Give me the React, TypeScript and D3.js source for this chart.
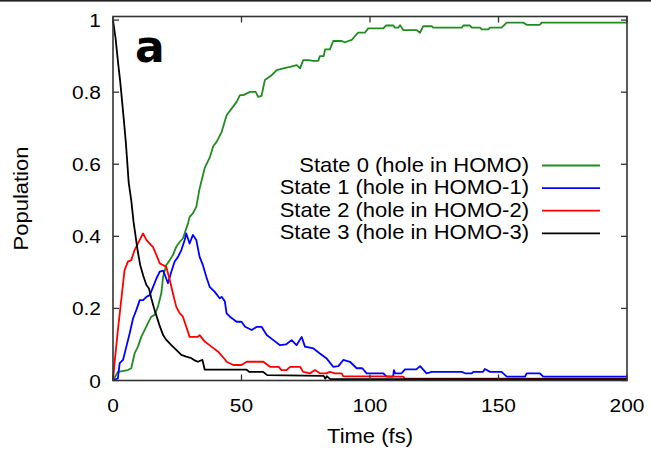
import React from 'react';
import * as d3 from 'd3';

const xTicks = [0, 50, 100, 150, 200];
const yTicks = [0, 0.2, 0.4, 0.6, 0.8, 1];
const yTickLabels = ['0', '0.2', '0.4', '0.6', '0.8', '1'];
const legendLabels = [
  'State 0 (hole in HOMO)',
  'State 1 (hole in HOMO-1)',
  'State 2 (hole in HOMO-2)',
  'State 3 (hole in HOMO-3)',
];
const seriesColors = ['#228b22', '#0000ff', '#ff0000', '#000000'];

const state0Time = [0, 1.9, 5.8, 7.1, 8.4, 9.7, 11, 12.3, 13.6, 14.9, 16.2, 17.5, 18.8, 19.5, 20.7, 22.1, 23.3, 24.6, 26, 27.2, 28.5, 29.2, 29.8, 31.1, 32.4, 33.7, 35.7, 37.7, 39, 40.3, 42.3, 44.2, 46.2, 48.1, 49.4, 50.7, 53.3, 55.5, 56.5, 57.8, 59.1, 61.7, 63.7, 66.3, 68.9, 71.5, 72.8, 74, 76, 77.9, 79.9, 80.5, 82, 82.5, 84.4, 85.7, 89, 90.3, 91.5, 92.9, 94.2, 95.4, 98, 99.3, 105.2, 106.2, 109.1, 109.7, 111, 111.7, 113, 118.2, 119.5, 120.7, 124, 124.6, 135.7, 136.3, 138.9, 139.6, 142.8, 143.5, 146, 146.7, 151.2, 153.2, 159.6, 161, 166.1, 166.8, 200];
const state0Pop = [0, 0.024, 0.029, 0.034, 0.075, 0.094, 0.121, 0.14, 0.159, 0.177, 0.182, 0.205, 0.242, 0.288, 0.32, 0.334, 0.348, 0.371, 0.385, 0.394, 0.422, 0.436, 0.454, 0.464, 0.482, 0.533, 0.59, 0.62, 0.65, 0.662, 0.69, 0.736, 0.755, 0.773, 0.792, 0.792, 0.801, 0.801, 0.787, 0.79, 0.834, 0.847, 0.861, 0.866, 0.87, 0.875, 0.866, 0.889, 0.889, 0.887, 0.887, 0.9, 0.9, 0.919, 0.919, 0.942, 0.942, 0.938, 0.942, 0.945, 0.956, 0.965, 0.965, 0.977, 0.977, 0.985, 0.985, 0.979, 0.979, 0.986, 0.972, 0.972, 0.965, 0.983, 0.983, 0.979, 0.979, 0.985, 0.985, 0.979, 0.979, 0.974, 0.974, 0.979, 0.979, 0.993, 0.993, 0.987, 0.987, 0.993, 0.993];

const state1Time = [0, 1.9, 2.3, 2.6, 3.9, 5.2, 6.5, 7.8, 9.1, 10.4, 11.7, 13, 14.3, 15.6, 16.9, 18.2, 19.5, 20.7, 21.4, 22.7, 24, 25.3, 26.6, 27.9, 28.5, 29.8, 31.1, 32.4, 33.7, 35, 36.3, 37.6, 39.6, 41.5, 42.3, 43.5, 44.2, 45.5, 48.1, 50, 51.4, 54, 55.9, 57.8, 59.8, 62.4, 65, 67.3, 69.5, 71.4, 73.4, 74.7, 78, 80.5, 83, 85.7, 87.7, 89.6, 92.2, 94.8, 97, 98.7, 105.2, 106.5, 109, 109.3, 109.8, 112.3, 113.6, 118, 119.5, 122, 124, 135.7, 137, 139.6, 140.2, 144, 144.7, 146.7, 151.2, 153.2, 160.3, 161, 166.1, 167.4, 200];
const state1Pop = [0, 0.006, 0.03, 0.048, 0.057, 0.094, 0.131, 0.172, 0.196, 0.223, 0.223, 0.232, 0.237, 0.26, 0.283, 0.302, 0.305, 0.283, 0.27, 0.302, 0.33, 0.343, 0.362, 0.39, 0.408, 0.38, 0.404, 0.39, 0.343, 0.32, 0.288, 0.26, 0.246, 0.228, 0.232, 0.22, 0.186, 0.177, 0.163, 0.163, 0.149, 0.14, 0.149, 0.149, 0.126, 0.112, 0.098, 0.1, 0.112, 0.098, 0.121, 0.094, 0.089, 0.075, 0.062, 0.038, 0.04, 0.057, 0.052, 0.034, 0.034, 0.02, 0.02, 0.0105, 0.0105, 0.029, 0.02, 0.02, 0.031, 0.031, 0.04, 0.02, 0.024, 0.024, 0.02, 0.02, 0.024, 0.024, 0.032, 0.024, 0.024, 0.0105, 0.0105, 0.02, 0.02, 0.0105, 0.0105];

const state2Time = [0, 0.6, 1.9, 3.2, 4.5, 5.8, 7.1, 8.4, 10.4, 11.7, 13, 14.3, 15.6, 16.9, 18.2, 19.5, 20.7, 22.1, 23.3, 24.6, 26, 27.2, 28.5, 29.8, 33, 33.7, 35.7, 38.3, 40.9, 43.5, 44.2, 46.8, 50, 52, 58.5, 61.1, 64.5, 65.6, 67.5, 68.9, 72.8, 74, 76.7, 78.6, 80.5, 83, 84.4, 86.4, 89, 89.6, 109, 110, 113, 113.5, 200];
const state2Pop = [0, 0.048, 0.14, 0.223, 0.306, 0.33, 0.334, 0.362, 0.39, 0.408, 0.39, 0.38, 0.37, 0.348, 0.325, 0.32, 0.316, 0.279, 0.242, 0.205, 0.186, 0.177, 0.149, 0.121, 0.121, 0.126, 0.108, 0.094, 0.08, 0.059, 0.052, 0.043, 0.043, 0.052, 0.052, 0.038, 0.038, 0.029, 0.029, 0.038, 0.038, 0.024, 0.02, 0.029, 0.02, 0.02, 0.024, 0.02, 0.02, 0.0115, 0.0115, 0.0105, 0.0105, 0.005, 0.005];

const state3Time = [0, 1, 2, 2.8, 3.2, 4, 5, 6.1, 7.1, 8, 8.8, 9.6, 10.6, 11.8, 13, 14, 14.9, 16, 16.9, 18, 19.5, 20.5, 21.4, 22.7, 24, 25.3, 26.6, 28.5, 30.5, 32, 33, 34.8, 35.7, 52, 53, 58.4, 60, 82, 82.6, 83.2, 84.5, 200];
const state3Pop = [1, 0.95, 0.88, 0.83, 0.8, 0.74, 0.66, 0.55, 0.5, 0.44, 0.4, 0.36, 0.32, 0.29, 0.265, 0.255, 0.228, 0.2, 0.18, 0.155, 0.126, 0.115, 0.108, 0.098, 0.089, 0.08, 0.071, 0.066, 0.062, 0.055, 0.052, 0.057, 0.03, 0.03, 0.024, 0.024, 0.015, 0.013, 0.005, 0.012, 0.004, 0.004];

const seriesTimes = [state0Time, state1Time, state2Time, state3Time];
const seriesPops = [state0Pop, state1Pop, state2Pop, state3Pop];

const FONT = "'Liberation Sans', Arial, Helvetica, sans-serif";
const SX = 1.1;

function SText(props: { x: number; y: number; anchor?: string; size: number; rotate?: boolean; children: React.ReactNode }) {
  const { x, y, anchor = 'start', size, rotate, children } = props;
  return (
    <text
      transform={`translate(${x},${y})${rotate ? ' rotate(-90)' : ''} scale(${SX},1)`}
      textAnchor={anchor}
      fontFamily={FONT}
      fontSize={size}
      fill="#000"
    >
      {children}
    </text>
  );
}

export default function App() {
  const W = 651;
  const H = 451;
  const left = 113, right = 627, top = 16.5, bottom = 380.5;
  const x = d3.scaleLinear().domain([0, 200]).range([left, right]);
  const y = d3.scaleLinear().domain([0, 1.01]).range([bottom, top]);
  const tickLen = 6;
  const frameColor = '#333';

  const line = d3
    .line<[number, number]>()
    .x((d) => x(d[0]))
    .y((d) => y(d[1]));

  const paths = seriesTimes.map((ts, i) => line(ts.map((t, j) => [t, seriesPops[i][j]] as [number, number])) || '');

  const legendBase = 171.5;
  const legendStep = 22.6;

  return (
    <svg width={W} height={H} viewBox={`0 0 ${W} ${H}`} style={{ position: 'absolute', left: 0, top: 0, background: '#fff' }}>
      <rect x={0} y={0} width={W} height={H} fill="#fff" />
      <rect x={0} y={0} width={W} height={1.6} fill="#222" />

      {/* series */}
      {paths.map((d, i) => (
        <path key={i} d={d} fill="none" stroke={seriesColors[i]} strokeWidth={1.8} strokeLinejoin="round" />
      ))}

      {/* frame */}
      <rect x={left} y={top} width={right - left} height={bottom - top} fill="none" stroke={frameColor} strokeWidth={1.6} />

      {/* y ticks */}
      {yTicks.map((v, i) => (
        <g key={'y' + i}>
          <line x1={left} x2={left + tickLen} y1={y(v)} y2={y(v)} stroke={frameColor} strokeWidth={1.3} />
          <line x1={right} x2={right - tickLen} y1={y(v)} y2={y(v)} stroke={frameColor} strokeWidth={1.3} />
          <SText x={101} y={y(v) + 7} anchor="end" size={19}>
            {yTickLabels[i]}
          </SText>
        </g>
      ))}

      {/* x ticks */}
      {xTicks.map((v, i) => (
        <g key={'x' + i}>
          <line x1={x(v)} x2={x(v)} y1={bottom} y2={bottom - tickLen} stroke={frameColor} strokeWidth={1.3} />
          <line x1={x(v)} x2={x(v)} y1={top} y2={top + tickLen} stroke={frameColor} strokeWidth={1.3} />
          <SText x={x(v)} y={412} anchor="middle" size={19}>
            {String(v)}
          </SText>
        </g>
      ))}

      {/* axis titles */}
      <SText x={(left + right) / 2} y={443} anchor="middle" size={20}>
        Time (fs)
      </SText>
      <SText x={28} y={(top + bottom) / 2} anchor="middle" size={20} rotate>
        Population
      </SText>

      {/* panel label */}
      <text x={135} y={62} fontFamily="'DejaVu Sans', sans-serif" fontWeight="bold" fontSize={44} fill="#000">
        a
      </text>

      {/* legend */}
      {legendLabels.map((lab, i) => {
        const by = legendBase + i * legendStep;
        return (
          <g key={'l' + i}>
            <SText x={529} y={by} anchor="end" size={20}>
              {lab}
            </SText>
            <line x1={542} x2={600} y1={by - 6} y2={by - 6} stroke={seriesColors[i]} strokeWidth={1.8} />
          </g>
        );
      })}
    </svg>
  );
}
